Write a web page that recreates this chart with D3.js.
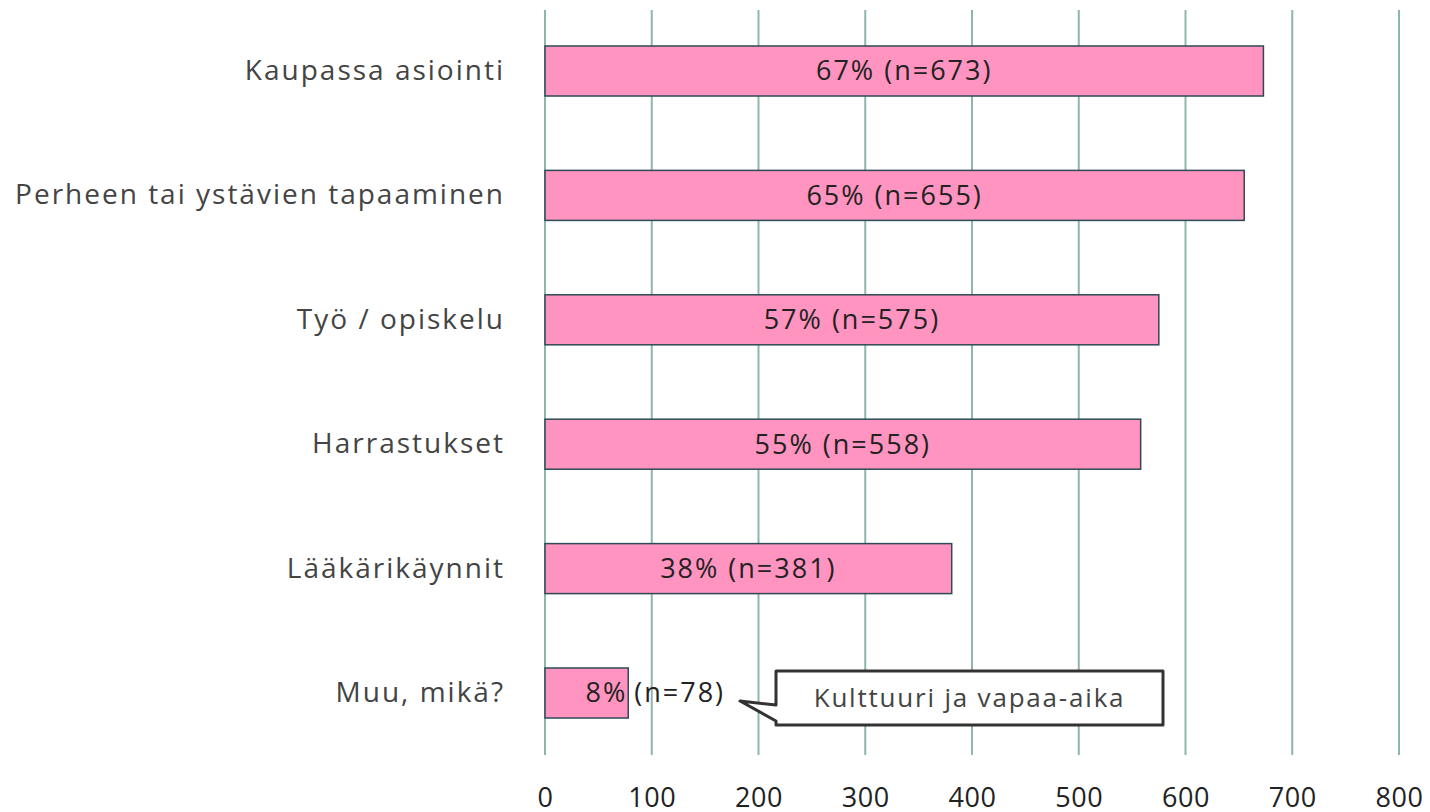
<!DOCTYPE html>
<html><head><meta charset="utf-8">
<script src="https://cdn.jsdelivr.net/npm/d3@7"></script>
<style>
html,body{margin:0;padding:0;background:#fff;}
svg{display:block;font-family:"Open Sans",sans-serif;}
</style></head>
<body>
<script>
const categories = ["Kaupassa asiointi","Perheen tai ystävien tapaaminen","Työ / opiskelu","Harrastukset","Lääkärikäynnit","Muu, mikä?"];
const counts = [673,655,575,558,381,78];
const percents = [67,65,57,55,38,8];
const tickValues = [0,100,200,300,400,500,600,700,800];
const calloutText = "Kulttuuri ja vapaa-aika";

const W = 1430, H = 812;
const FONT = "'Open Sans', sans-serif";
const svg = d3.select("body").append("svg").attr("width", W).attr("height", H);

const x = d3.scaleLinear().domain([0, 800]).range([545, 1399]);
const y = d3.scaleBand().domain(categories).range([8.8, 755.2]).paddingInner(0.598).paddingOuter(0.299);

// gridlines
svg.append("g").selectAll("line").data(tickValues).join("line")
  .attr("x1", d => x(d)).attr("x2", d => x(d))
  .attr("y1", 10).attr("y2", 755)
  .attr("stroke", "#8fb5af").attr("stroke-width", 2);

// x tick labels
const xAxis = svg.append("g").attr("transform", "translate(0,755)")
  .call(d3.axisBottom(x).tickValues(tickValues).tickSize(0).tickPadding(33));
xAxis.select(".domain").remove();
xAxis.selectAll("text").attr("font-size", 27).attr("fill", "#222").attr("font-family", FONT)
  .attr("letter-spacing", 0.5);

// category labels
const yAxis = svg.append("g").attr("transform", "translate(505,0)")
  .call(d3.axisLeft(y).tickSize(0).tickPadding(0));
yAxis.select(".domain").remove();
yAxis.selectAll("text").attr("font-size", 28).attr("fill", "#444").attr("font-family", FONT)
  .attr("letter-spacing", 2);

// bars
svg.append("g").selectAll("rect").data(categories).join("rect")
  .attr("x", x(0)).attr("y", d => y(d))
  .attr("width", (d, i) => x(counts[i]) - x(0))
  .attr("height", y.bandwidth())
  .attr("fill", "#ff94c0").attr("stroke", "#2e4a56").attr("stroke-width", 1.5);

// bar labels
const lbl = svg.append("g").attr("font-size", 27).attr("fill", "#222").attr("font-family", FONT)
  .attr("letter-spacing", 2);
categories.forEach((c, i) => {
  const cy = y(c) + y.bandwidth() / 2;
  const w = x(counts[i]) - x(0);
  if (w > 200) {
    lbl.append("text").attr("x", x(0) + w / 2).attr("y", cy).attr("dy", "0.35em")
      .attr("text-anchor", "middle").text(`${percents[i]}% (n=${counts[i]})`);
  } else {
    lbl.append("text").attr("x", x(counts[i]) - 1).attr("y", cy).attr("dy", "0.35em")
      .attr("text-anchor", "end").text(`${percents[i]}%`);
    lbl.append("text").attr("x", x(counts[i]) + 6).attr("y", cy).attr("dy", "0.35em")
      .attr("text-anchor", "start").text(`(n=${counts[i]})`);
  }
});

// callout
const last = categories[categories.length - 1];
const cyL = y(last) + y.bandwidth() / 2;
const bx0 = 776, bx1 = 1163, by0 = cyL - 22, by1 = cyL + 32;
const tipX = 740, tipY = cyL + 8;
const path = d3.path();
path.moveTo(bx0, by0);
path.lineTo(bx1, by0);
path.lineTo(bx1, by1);
path.lineTo(bx0, by1);
path.lineTo(bx0, by1 - 4);
path.lineTo(tipX, tipY);
path.lineTo(bx0, tipY + 4);
path.closePath();
svg.append("path").attr("d", path.toString())
  .attr("fill", "#fff").attr("stroke", "#333").attr("stroke-width", 3).attr("stroke-linejoin", "round");
svg.append("text").attr("x", (bx0 + bx1) / 2).attr("y", (by0 + by1) / 2).attr("dy", "0.35em")
  .attr("text-anchor", "middle").attr("font-size", 26).attr("fill", "#444").attr("font-family", FONT)
  .attr("letter-spacing", 1.8).text(calloutText);
</script>
</body></html>
